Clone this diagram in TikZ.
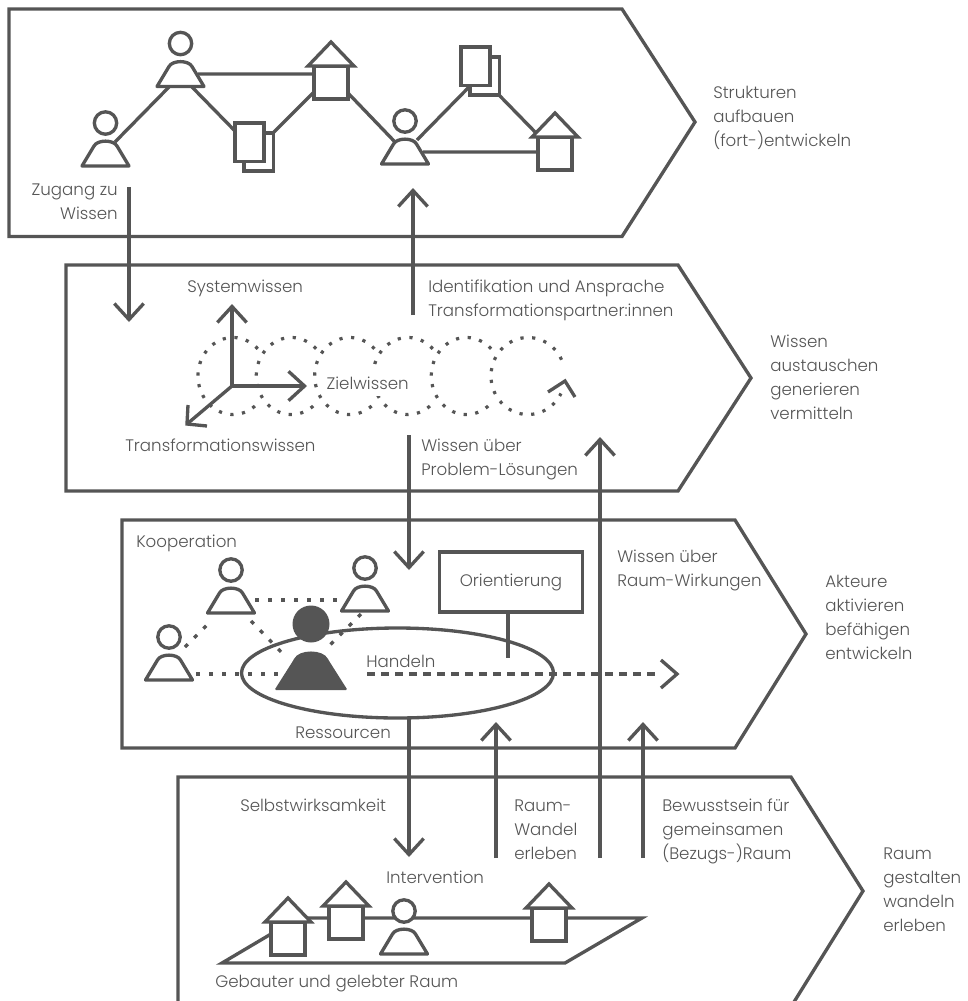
\documentclass[tikz,border=0pt]{standalone}
\usepackage{fontspec}
\setmainfont{Poppins Light}
\usetikzlibrary{arrows.meta,shapes.geometric}
\definecolor{ink}{HTML}{555555}
\tikzset{
  x=0.75pt,y=-0.75pt,
  lnk/.style={draw=ink,line width=2.5pt,line join=miter},
  arr/.style={lnk,-{Straight Barb[length=12pt,width=22pt,line width=2.5pt]}},
  dotline/.style={draw=ink,line width=2.5pt,dash pattern=on 3pt off 6.75pt},
  spiraldots/.style={draw=ink,line width=2.4pt,dash pattern=on 2.4pt off 6.4pt},
  dashline/.style={draw=ink,line width=2.5pt,dash pattern=on 6pt off 4.5pt},
  lab/.style={text=ink,font=\fontsize{12.5pt}{18.1pt}\selectfont,inner sep=0pt,align=left,anchor=north west},
  labr/.style={lab,align=right,anchor=north east},
  person/.pic={
    \draw[lnk,fill=white] (0,0) circle (11.2);
    \draw[lnk,line join=round,fill=white] (-23.5,43) -- (-11.5,23) .. controls (-8,16.5) and (8,16.5) .. (11.5,23) -- (23.5,43) -- cycle;
  },
  bigperson/.pic={
    \fill[ink] (0,0) circle (18.5);
    \fill[ink,rounded corners=1pt] (-36.5,66) -- (-17.5,36) .. controls (-12,25) and (12,25) .. (17.5,36) -- (36.5,66) -- cycle;
  },
  house/.pic={
    \draw[lnk,fill=white] (-17,0) rectangle (17,33);
    \draw[lnk,fill=white] (-23,0) -- (0,-24) -- (23,0) -- cycle;
  },
  doc/.pic={
    \draw[lnk,fill=white] (9,10) rectangle (38.5,48);
    \draw[lnk,fill=white] (0,0) rectangle (29,38.5);
  }
}
\begin{document}
\begin{tikzpicture}
\useasboundingbox (0,0) rectangle (968,1001);
\begin{scope}
\clip (0,0) rectangle (968,1001);
\draw[lnk] (9,9) -- (622,9) -- (695,122) -- (622,236.5) -- (9,236.5) -- cycle;
\draw[lnk] (66,265) -- (678,265) -- (751,378) -- (678,491) -- (66,491) -- cycle;
\draw[lnk] (122,520) -- (735,520) -- (806,634) -- (735,748) -- (122,748) -- cycle;
\draw[lnk] (178,1010) -- (178,777) -- (791,777) -- (863,891) -- (789,1010);
\end{scope}
% --- top network
\coordinate (p1) at (105.5,123);
\coordinate (p2) at (180.5,43.5);
\coordinate (p3) at (405,121);
\coordinate (h1) at (331,66);
\coordinate (h2) at (555,137);
\coordinate (d1) at (235,123);
\coordinate (d2) at (461,47);
\coordinate (a1) at (115,142); \coordinate (a2) at (169,87);
\coordinate (a3) at (198,74); \coordinate (a4) at (314,74);
\coordinate (a5) at (192,87); \coordinate (a6) at (236,132);
\coordinate (a7) at (273,133); \coordinate (a8) at (314,92);
\coordinate (a9) at (347,92); \coordinate (a10) at (395,142);
\coordinate (a11) at (417,140); \coordinate (a12) at (470,86);
\coordinate (a13) at (423,152); \coordinate (a14) at (538,152);
\coordinate (a15) at (498,94); \coordinate (a16) at (538,135);
\draw[lnk] (a1)--(a2) (a3)--(a4) (a5)--(a6) (a7)--(a8) (a9)--(a10) (a11)--(a12) (a13)--(a14) (a15)--(a16);
\pic at (p1) {person}; \pic at (p2) {person}; \pic at (p3) {person};
\pic at (h1) {house}; \pic at (h2) {house};
\pic at (d1) {doc}; \pic at (d2) {doc};
% --- vertical connectors
\coordinate (zs) at (129,187); \coordinate (ze) at (129,322);
\draw[arr] (zs) -- (ze);
\coordinate (is) at (413,315); \coordinate (ie) at (413,188);
\draw[arr] (is) -- (ie);
\coordinate (ws) at (409,435); \coordinate (we) at (409,570);
\draw[arr] (ws) -- (we);
\coordinate (us) at (600,858); \coordinate (ue) at (600,437);
\draw[arr] (us) -- (ue);
\coordinate (rs) at (409,718); \coordinate (re) at (409,857);
\draw[arr] (rs) -- (re);
\coordinate (ws1) at (496,858); \coordinate (we1) at (496,722);
\draw[arr] (ws1) -- (we1);
\coordinate (bs) at (643,858); \coordinate (be) at (643,722);
\draw[arr] (bs) -- (be);
% --- spiral
\foreach \cx in {233,291.3,349.7,408,466.3}
  \draw[spiraldots] plot[domain=45:315,samples=80] ({\cx+35*cos(\x)},{376-38.5*sin(\x)});
\draw[spiraldots] plot[domain=25:333,samples=80] ({528+37*cos(\x)},{376-38.5*sin(\x)});
\coordinate (sc) at (565,381); \coordinate (sl) at (548,392); \coordinate (sr) at (575,397);
\draw[lnk] (sl) -- (sc) -- (sr);
% --- axes
\coordinate (o) at (232,386);
\coordinate (ax) at (307,386); \coordinate (ay) at (232,304); \coordinate (az) at (187,424);
\coordinate (azl) at (188,405); \coordinate (azr) at (207,426);
\draw[arr] (o) -- (ax);
\draw[arr] (o) -- (ay);
\draw[lnk] (o) -- (az);
\draw[lnk] (azl) -- (az) -- (azr);
% --- third panel
\coordinate (q1) at (169,637);
\coordinate (q2) at (231,570);
\coordinate (q3) at (365,568);
\coordinate (q4) at (311,624);
\coordinate (c1) at (255,600); \coordinate (c2) at (344,600);
\coordinate (c3) at (185,647); \coordinate (c4) at (211,621);
\coordinate (c5) at (196,674); \coordinate (c6) at (283,674);
\coordinate (c7) at (251,621); \coordinate (c8) at (285,656);
\coordinate (c9) at (361,614); \coordinate (c10) at (326,649);
\draw[dotline] (c1) -- (c2);
\draw[dotline] (c3) -- (c4);
\draw[dotline] (c5) -- (c6);
\draw[dotline] (c7) -- (c8);
\draw[dotline] (c9) -- (c10);
\node[draw=ink,line width=2.5pt,ellipse,minimum width=234pt,minimum height=67.5pt,inner sep=0pt] (ell) at (397.5,673) {};
\pic at (q1) {person}; \pic at (q2) {person}; \pic at (q3) {person};
\pic at (q4) {bigperson};
\coordinate (da) at (367,674); \coordinate (db) at (660,674); \coordinate (qa) at (677,674);
\coordinate (qu) at (661,660); \coordinate (qd) at (661,688);
\draw[dashline] (da) -- (db);
\draw[lnk] (qu) -- (qa) -- (qd);
\node[draw=ink,line width=2.5pt,fill=white,minimum width=107.5pt,minimum height=45pt,inner sep=0pt,text=ink,font=\fontsize{12.5pt}{18.1pt}\selectfont] (ori) at (511,582) {Orientierung};
\coordinate (st) at (508,612); \coordinate (sb) at (508,658);
\draw[lnk] (st) -- (sb);
% --- bottom panel
\coordinate (g1) at (222,963); \coordinate (g2) at (565,963); \coordinate (g3) at (642,918); \coordinate (g4) at (298,918);
\draw[lnk] (g1) -- (g2) -- (g3) -- (g4) -- cycle;
\coordinate (ha) at (288,922); \coordinate (hb) at (346,906); \coordinate (hc) at (549,908); \coordinate (pb) at (404,911);
\pic at (ha) {house}; \pic at (hb) {house}; \pic at (hc) {house}; \pic at (pb) {person};
% --- labels (y = baseline - 17)
\node[labr] (l1) at (118,178) {\strut Zugang zu\\Wissen};
\node[lab] (l2) at (713,81) {\strut Strukturen\\aufbauen\\(fort-)entwickeln};
\node[lab] (l3) at (187,275) {\strut Systemwissen};
\node[lab] (l4) at (428,275) {\strut Identifikation und Ansprache\\Transformationspartner:innen};
\node[lab,fill=white,inner xsep=1pt] (l5) at (325,372) {\strut Zielwissen};
\node[lab] (l6) at (125,434) {\strut Transformationswissen};
\node[lab] (l7) at (421,434) {\strut Wissen über\\Problem-Lösungen};
\node[lab] (l8) at (770,330) {\strut Wissen\\austauschen\\generieren\\vermitteln};
\node[lab] (l9) at (136,530) {\strut Kooperation};
\node[lab] (l10) at (617,545) {\strut Wissen über\\Raum-Wirkungen};
\node[lab] (l11) at (366,650) {\strut Handeln};
\node[lab] (l12) at (295,721) {\strut Ressourcen};
\node[lab] (l13) at (825,570) {\strut Akteure\\aktivieren\\befähigen\\entwickeln};
\node[lab] (l14) at (240,794) {\strut Selbstwirksamkeit};
\node[lab] (l15) at (514,794) {\strut Raum-\\Wandel\\erleben};
\node[lab] (l16) at (662,794) {\strut Bewusstsein für\\gemeinsamen\\(Bezugs-)Raum};
\node[lab] (l17) at (386,866) {\strut Intervention};
\node[lab] (l18) at (215,970) {\strut Gebauter und gelebter Raum};
\node[lab] (l19) at (883,842) {\strut Raum\\gestalten\\wandeln\\erleben};
\end{tikzpicture}
\end{document}
